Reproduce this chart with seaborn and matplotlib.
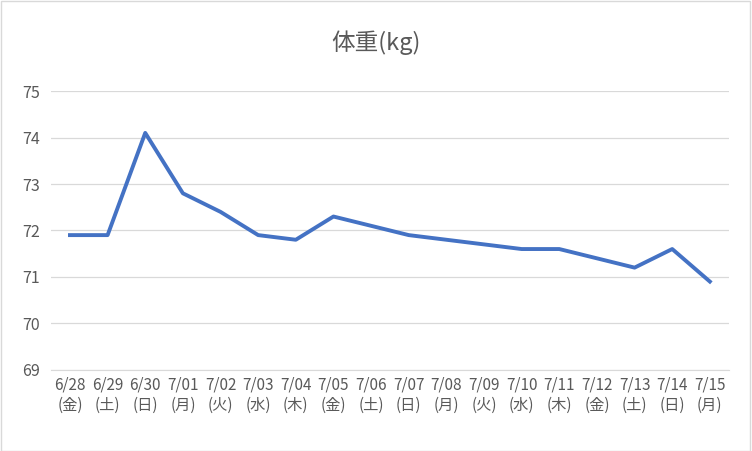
import matplotlib
matplotlib.use('Agg')
import matplotlib.pyplot as plt
import seaborn as sns
import pandas as pd

dates = ['6/28', '6/29', '6/30', '7/01', '7/02', '7/03', '7/04', '7/05', '7/06',
         '7/07', '7/08', '7/09', '7/10', '7/11', '7/12', '7/13', '7/14', '7/15']
weekdays = ['金', '土', '日', '月', '火', '水', '木', '金', '土',
            '日', '月', '火', '水', '木', '金', '土', '日', '月']
weights = [71.9, 71.9, 74.1, 72.8, 72.4, 71.9, 71.8, 72.3, 72.1,
           71.9, 71.8, 71.7, 71.6, 71.6, 71.4, 71.2, 71.6, 70.9]

plt.rcParams['font.family'] = 'Noto Sans CJK JP'
df = pd.DataFrame({'idx': range(len(dates)), 'weight': weights})

fig = plt.figure(figsize=(7.52, 4.51), dpi=100)
ax = fig.add_axes([0.068, 0.18, 0.901, 0.618])
sns.lineplot(data=df, x='idx', y='weight', ax=ax, color='#4472C4', linewidth=2.8)

ax.set_xlim(-0.5, len(dates) - 0.5)
ax.set_ylim(69, 75)
ax.set_yticks(range(69, 76))
ax.set_xticks(range(len(dates)))
ax.set_xticklabels([f'{d}\n({w})' for d, w in zip(dates, weekdays)], fontsize=11, color='#595959')
ax.tick_params(axis='y', labelsize=11.5, colors='#595959', length=0, pad=8)
ax.tick_params(axis='x', length=0, pad=5)
ax.grid(axis='y', color='#D9D9D9', linewidth=0.9)
ax.set_axisbelow(True)
for s in ['top', 'right', 'left']:
    ax.spines[s].set_visible(False)
ax.spines['bottom'].set_color('#D9D9D9')
ax.set_xlabel('')
ax.set_ylabel('')
fig.text(0.5, 0.905, '体重(kg)', ha='center', va='center', fontsize=17, color='#595959')
fig.patches.append(plt.Rectangle((0.001, 0.001), 0.997, 0.997, transform=fig.transFigure,
                                 fill=False, edgecolor='#D9D9D9', linewidth=1))
fig.savefig('out.png', dpi=100)
